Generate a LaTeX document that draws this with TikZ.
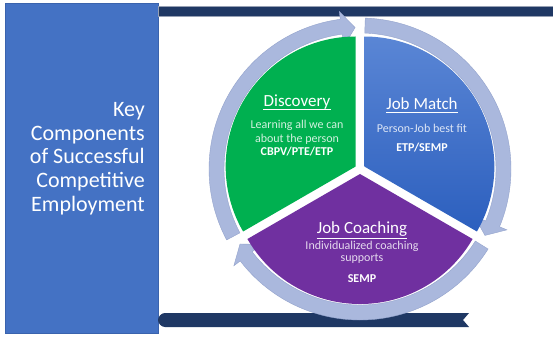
\documentclass[tikz,border=0pt]{standalone}
\usepackage{fontspec}
\setmainfont{Carlito}
\definecolor{boxblue}{HTML}{4472C4}
\definecolor{boxedge}{HTML}{3A63AD}
\definecolor{navy}{HTML}{1F3864}
\definecolor{ringblue}{HTML}{AAB8DD}
\definecolor{ringedge}{HTML}{93A3CC}
\definecolor{discgreen}{HTML}{00B050}
\definecolor{matchtop}{HTML}{5A86D5}
\definecolor{matchbot}{HTML}{2C5FBE}
\definecolor{coachpurple}{HTML}{7030A0}
\begin{document}
\begin{tikzpicture}[x=1pt,y=1pt,
  titleline/.style={font=\fontsize{22}{24}\selectfont, text=white, anchor=base east, inner sep=0pt},
  heading/.style={font=\fontsize{17}{20}\selectfont, text=white, anchor=base, inner sep=0pt},
  small/.style={font=\fontsize{12}{14}\selectfont, text=white, text opacity=0.82, anchor=base, inner sep=0pt},
  codeline/.style={font=\fontsize{12}{14}\selectfont\bfseries, text=white, anchor=base, inner sep=0pt},
  ringarrow/.style={fill=ringblue, draw=ringedge, line width=0.4pt},
  uline/.style={draw=white, line width=0.8pt},
]
\useasboundingbox (0,0) rectangle (553,337);
\fill[white] (0,0) rectangle (553,337);

% left panel
\node (panel) [fill=boxblue, draw=boxedge, line width=0.6pt, minimum width=153pt, minimum height=330pt, anchor=south west, inner sep=0pt] at (5,3) {};

% bars
\fill[navy, draw={rgb,255:red,150;green,160;blue,180}, line width=0.4pt] (158,321) rectangle (553,331);
\fill[navy] (165,24) -- (469,24) -- (463,17) -- (469,10) -- (165,10)
  .. controls (161,10) and (158,14) .. (158,17)
  .. controls (158,20) and (161,24) .. (165,24) -- cycle;

% title
\node[titleline] (t1) at (145,220.3) {Key};
\node[titleline] (t2) at (145,196.7) {Components};
\node[titleline] (t3) at (145,173.1) {of Successful};
\node[titleline] (t4) at (145,149.5) {Competitive};
\node[titleline] (t5) at (145,125.9) {Employment};

% centre
\coordinate (C) at (360,168);

% ring arrows (clockwise)
\begin{scope}[shift={(C)}]
  \foreach \s/\t in {208/92, 88/-28, -32/-148}{
    \pgfmathsetmacro{\b}{\t+5.5}
    \path[ringarrow] (\s:151) arc[start angle=\s, end angle=\b, radius=151]
      -- (\b:159) -- (\t:141.5) -- (\b:124) -- (\b:136)
      arc[start angle=\b, end angle=\s, radius=136] -- cycle;
  }
  % sectors (slightly exploded)
  \fill[discgreen] (150:5) -- ++(90:130) arc[start angle=90, end angle=210, radius=130] -- cycle;
  \shade[top color=matchtop, bottom color=matchbot] (30:5) -- ++(-30:130) arc[start angle=-30, end angle=90, radius=130] -- cycle;
  \fill[coachpurple] (270:5) -- ++(210:130) arc[start angle=210, end angle=330, radius=130] -- cycle;
\end{scope}

% Discovery
\node[heading] (d1) at (297,230) {Discovery};
\draw[uline] ([yshift=-2.3pt]d1.base west) -- ([yshift=-2.3pt]d1.base east);
\node[small] (d2) at (297,208) {Learning all we can};
\node[small] (d3) at (297,194) {about the person};
\node[codeline] (d4) at (297,181) {CBPV/PTE/ETP};

% Job Match
\node[heading] (m1) at (422,227) {Job Match};
\draw[uline] ([yshift=-2.3pt]m1.base west) -- ([yshift=-2.3pt]m1.base east);
\node[small] (m2) at (422,204) {Person-Job best fit};
\node[codeline] (m3) at (422,185) {ETP/SEMP};

% Job Coaching
\node[heading] (c1) at (362,103) {Job Coaching};
\draw[uline] ([yshift=-4.2pt]c1.base west) -- ([yshift=-4.2pt]c1.base east);
\node[small] (c2) at (362,88) {Individualized coaching};
\node[small] (c3) at (362,75) {supports};
\node[codeline] (c4) at (362,55) {SEMP};
\end{tikzpicture}
\end{document}
